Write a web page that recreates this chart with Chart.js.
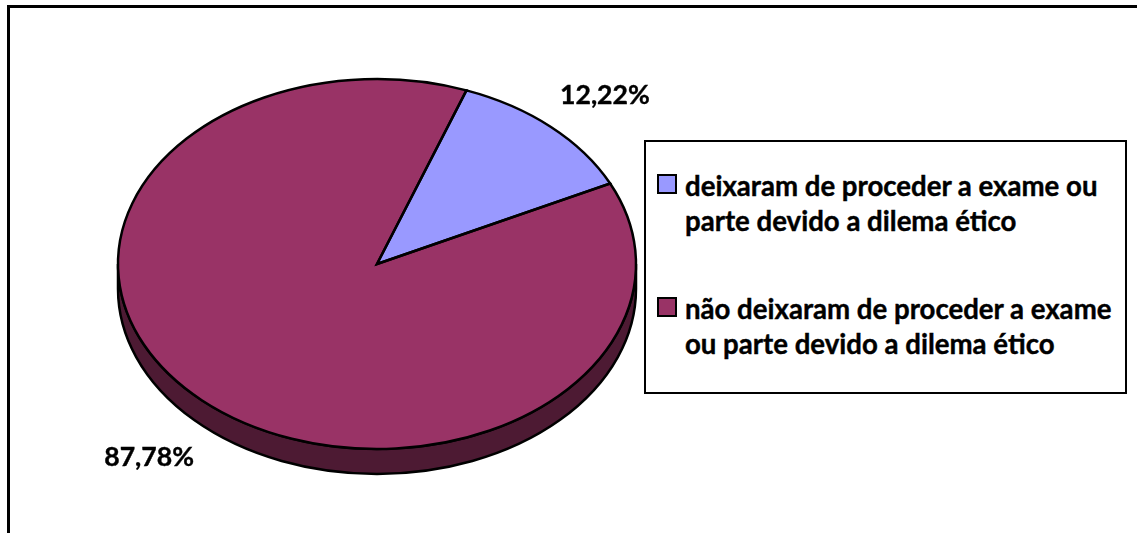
<!DOCTYPE html>
<html>
<head>
<meta charset="utf-8">
<script src="https://cdn.jsdelivr.net/npm/chart.js@4"></script>
<style>
    html, body { margin: 0; padding: 0; background: #fff; }
    #wrap { position: relative; width: 1137px; height: 533px; overflow: hidden; }
    #chart { position: absolute; left: 0; top: 0; }
    #frame { position: absolute; left: 7px; top: 5px; right: 0; bottom: 0; border-top: 3px solid #000; border-left: 3px solid #000; }
    #legend { position: absolute; left: 644px; top: 140px; width: 479px; height: 250px; border: 2px solid #000; background: #fff; font: bold 27.6px Lato, sans-serif; color: #000; -webkit-text-stroke: 0.4px #000; }
    .item { position: absolute; left: 39px; width: 436px; line-height: 35px; }
    .swatch { position: absolute; left: -28px; top: 6px; width: 16px; height: 16px; border: 2.5px solid #000; }
</style>
</head>
<body>
<div id="wrap">
    <canvas id="chart" width="1137" height="533"></canvas>
    <div id="frame"></div>
    <div id="legend"></div>
</div>
<script>
const categories = [
    'deixaram de proceder a exame ou parte devido a dilema ético',
    'não deixaram de proceder a exame ou parte devido a dilema ético'
];
const percentages = [12.22, 87.78];
const sliceLabels = ['12,22%', '87,78%'];
const sliceColors = ['#9999FF', '#993366'];
const sideColors = ['#4D4D80', '#4D1A33'];

const flatten = 185 / 259;   // pie is tilted, circle becomes an ellipse
const depth = 25;

function tilt(ctx, el) {
    ctx.translate(0, el.y);
    ctx.scale(1, flatten);
    ctx.translate(0, -el.y);
}

const pie3d = {
    id: 'pie3d',
    beforeDatasetsDraw(chart) {
        const ctx = chart.ctx;
        const arcs = chart.getDatasetMeta(0).data;
        ctx.save();
        arcs.forEach((el, i) => {
            // only the front half of the pie shows its side
            const from = Math.max(el.startAngle, 0);
            const to = Math.min(el.endAngle, Math.PI);
            if (to <= from) return;
            const ry = el.outerRadius * flatten;
            ctx.beginPath();
            ctx.ellipse(el.x, el.y + depth, el.outerRadius, ry, 0, from, to);
            ctx.ellipse(el.x, el.y, el.outerRadius, ry, 0, to, from, true);
            ctx.closePath();
            ctx.fillStyle = sideColors[i];
            ctx.fill();
            ctx.lineWidth = 2.5;
            ctx.strokeStyle = '#000';
            ctx.stroke();
        });
        ctx.restore();
        ctx.save();
        tilt(ctx, arcs[0]);
    },
    afterDatasetsDraw(chart) {
        const ctx = chart.ctx;
        const arcs = chart.getDatasetMeta(0).data;
        ctx.restore();

        // outlines are stroked untransformed so the line width stays even
        arcs.forEach(el => {
            ctx.save();
            tilt(ctx, el);
            ctx.beginPath();
            ctx.moveTo(el.x, el.y);
            ctx.arc(el.x, el.y, el.outerRadius, el.startAngle, el.endAngle);
            ctx.closePath();
            ctx.restore();
            ctx.lineWidth = 2.5;
            ctx.lineJoin = 'miter';
            ctx.strokeStyle = '#000';
            ctx.stroke();
        });

        ctx.save();
        ctx.font = 'bold 26.6px Lato, sans-serif';
        ctx.fillStyle = '#000';
        ctx.strokeStyle = '#000';
        ctx.lineWidth = 0.4;
        ctx.textAlign = 'center';
        ctx.textBaseline = 'middle';
        arcs.forEach((el, i) => {
            const mid = (el.startAngle + el.endAngle) / 2;
            const x = el.x + 1.31 * el.outerRadius * Math.cos(mid);
            let y = el.y + 1.23 * el.outerRadius * flatten * Math.sin(mid);
            if (Math.sin(mid) > 0) y += depth;
            ctx.fillText(sliceLabels[i], x, y);
            ctx.strokeText(sliceLabels[i], x, y);
        });
        ctx.restore();
    }
};

const chart = new Chart(document.getElementById('chart'), {
    type: 'pie',
    data: {
        labels: categories,
        datasets: [{
            data: percentages,
            backgroundColor: sliceColors,
            borderWidth: 0
        }]
    },
    options: {
        responsive: false,
        animation: false,
        rotation: 20.2,
        layout: { padding: { left: 118, right: 501, top: 5, bottom: 10 } },
        plugins: {
            legend: { display: false },
            tooltip: { enabled: false }
        }
    },
    plugins: [pie3d]
});

// legend box is html so the long labels can wrap
const legendBox = document.getElementById('legend');
const itemTops = [26, 149];
chart.options.plugins.legend.labels.generateLabels(chart).forEach((item, i) => {
    const row = document.createElement('div');
    row.className = 'item';
    row.style.top = itemTops[i] + 'px';
    row.textContent = item.text;
    const swatch = document.createElement('span');
    swatch.className = 'swatch';
    swatch.style.background = item.fillStyle;
    row.appendChild(swatch);
    legendBox.appendChild(row);
});
</script>
</body>
</html>
